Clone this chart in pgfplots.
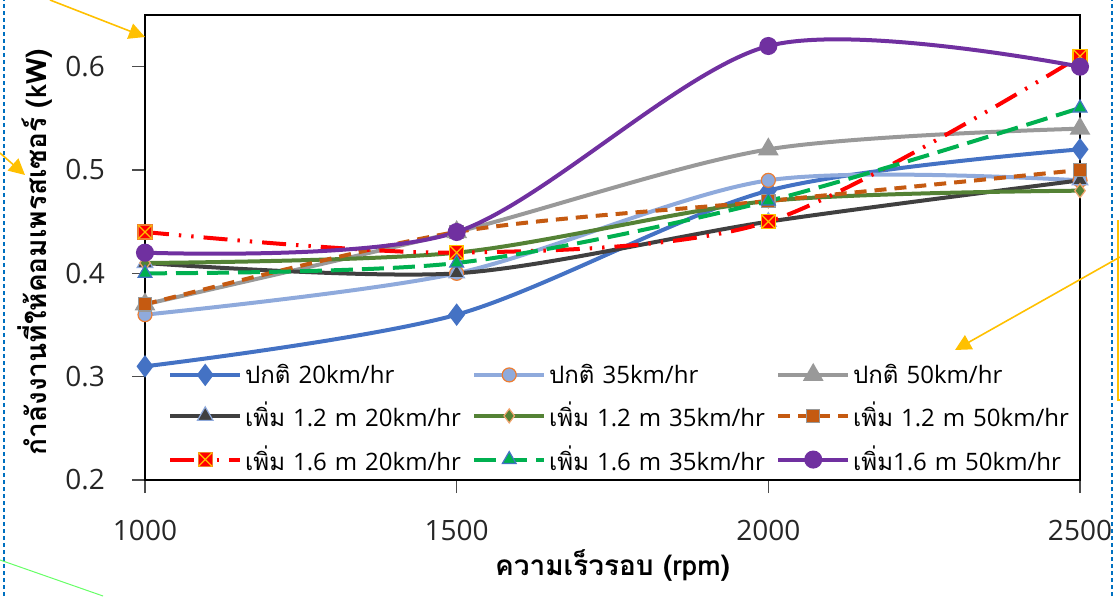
\documentclass[border=0pt]{standalone}
\usepackage{fontspec}
\setmainfont{Open Sans}
\newfontfamily\thai[Script=Thai]{Loma}
\usepackage{pgfplots}
\pgfplotsset{compat=1.18}
\usetikzlibrary{arrows.meta}
\definecolor{cA}{HTML}{4472C4}
\definecolor{cB}{HTML}{8FAADC}
\definecolor{cC}{HTML}{999999}
\definecolor{cD}{HTML}{404040}
\definecolor{cE}{HTML}{548235}
\definecolor{cF}{HTML}{C55A11}
\definecolor{cG}{HTML}{FF0000}
\definecolor{cH}{HTML}{00B050}
\definecolor{cI}{HTML}{7030A0}
\definecolor{edgeO}{HTML}{ED7D31}
\definecolor{edgeY}{HTML}{FFC000}
\definecolor{annBlue}{HTML}{0070C0}
\pgfdeclareplotmark{sqx}{%
  \pgfpathrectangle{\pgfpoint{-\pgfplotmarksize}{-\pgfplotmarksize}}{\pgfpoint{2\pgfplotmarksize}{2\pgfplotmarksize}}%
  \pgfusepathqfillstroke
  \pgfsetstrokecolor{edgeY}\pgfsetlinewidth{0.6pt}%
  \pgfpathmoveto{\pgfpoint{-\pgfplotmarksize}{-\pgfplotmarksize}}\pgfpathlineto{\pgfpoint{\pgfplotmarksize}{\pgfplotmarksize}}%
  \pgfpathmoveto{\pgfpoint{-\pgfplotmarksize}{\pgfplotmarksize}}\pgfpathlineto{\pgfpoint{\pgfplotmarksize}{-\pgfplotmarksize}}%
  \pgfusepathqstroke}
\begin{document}
\begin{tikzpicture}
\useasboundingbox (0,0) rectangle (560pt,298pt);
\begin{axis}[
  at={(72.5pt,58pt)}, anchor=south west,
  scale only axis, width=467.5pt, height=232.5pt,
  xmin=1000, xmax=2500, ymin=0.2, ymax=0.65,
  xtick={1000,1500,2000,2500}, xticklabels={1000,1500,2000,2500},
  ytick={0.2,0.3,0.4,0.5,0.6}, yticklabels={0.2,0.3,0.4,0.5,0.6},
  xtick pos=bottom, ytick pos=left, tick align=outside,
  major tick length=6.5pt,
  tick style={black!70, line width=0.8pt},
  axis line style={black, line width=1.1pt},
  ticklabel style={font=\fontsize{14}{16}\selectfont, text=black!85},
  xticklabel style={yshift=-10pt},
  yticklabel style={xshift=-10pt},
  xlabel={\bfseries\thai ความเร็วรอบ \bfseries(rpm)},
  ylabel={\bfseries\thai กำลังงานที่ให้คอมเพรสเซอร์ \bfseries(kW)},
  label style={font=\fontsize{14}{16}\selectfont},
  xlabel style={at={(axis description cs:0.5,-0.183)}, anchor=center},
  ylabel style={at={(axis description cs:-0.1176,0.49)}, anchor=center},
  every axis plot/.append style={line width=2pt, smooth},
  legend columns=3,
  legend cell align=left,
  legend style={at={(0.018,0.268)}, anchor=north west, draw=none, fill=none,
    font=\fontsize{12}{14}\selectfont, row sep=4pt,
    nodes={text width=112pt, inner xsep=1.5pt}},
  legend image code/.code={\draw[mark repeat=2,mark phase=2,#1] plot coordinates {(0pt,0pt) (17.5pt,0pt) (35pt,0pt)};},
]
\addplot[color=cA, mark=diamond*, mark size=4pt, mark options={fill=cA}] coordinates {(1000,0.31) (1500,0.36) (2000,0.48) (2500,0.52)};
\addlegendentry{{\thai ปกติ} 20km/hr}
\addplot[color=cB, mark=*, mark size=3.5pt, mark options={fill=cB, draw=edgeO, line width=0.6pt}] coordinates {(1000,0.36) (1500,0.40) (2000,0.49) (2500,0.49)};
\addlegendentry{{\thai ปกติ} 35km/hr}
\addplot[color=cC, mark=triangle*, mark size=4pt, mark options={fill=cC}] coordinates {(1000,0.37) (1500,0.44) (2000,0.52) (2500,0.54)};
\addlegendentry{{\thai ปกติ} 50km/hr}
\addplot[color=cD, mark=triangle*, mark size=4.5pt, mark options={fill=cD, draw=cB, line width=0.6pt}] coordinates {(1000,0.41) (1500,0.40) (2000,0.45) (2500,0.49)};
\addlegendentry{{\thai เพิ่ม} 1.2 m 20km/hr}
\addplot[color=cE, mark=diamond*, mark size=3.5pt, mark options={fill=cE, draw=edgeO!70, line width=0.6pt}] coordinates {(1000,0.41) (1500,0.42) (2000,0.47) (2500,0.48)};
\addlegendentry{{\thai เพิ่ม} 1.2 m 35km/hr}
\addplot[color=cF, dash pattern=on 6pt off 4pt, mark=square*, mark size=3.3pt, mark options={solid, fill=cF, draw=cC, line width=0.6pt}] coordinates {(1000,0.37) (1500,0.44) (2000,0.47) (2500,0.50)};
\addlegendentry{{\thai เพิ่ม} 1.2 m 50km/hr}
\addplot[color=cG, dash pattern=on 12pt off 5pt on 1.2pt off 5pt on 1.2pt off 5pt, mark=sqx, mark size=3.5pt, mark options={solid, fill=cG, draw=edgeO, line width=0.6pt}] coordinates {(1000,0.44) (1500,0.42) (2000,0.45) (2500,0.61)};
\addlegendentry{{\thai เพิ่ม} 1.6 m 20km/hr}
\addplot[color=cH, dash pattern=on 11pt off 4.5pt, mark=triangle*, mark size=4pt, mark options={solid, fill=cH, draw=cA, line width=0.6pt}] coordinates {(1000,0.40) (1500,0.41) (2000,0.47) (2500,0.56)};
\addlegendentry{{\thai เพิ่ม} 1.6 m 35km/hr}
\addplot[color=cI, mark=*, mark size=3.5pt, mark options={fill=cI}] coordinates {(1000,0.42) (1500,0.44) (2000,0.62) (2500,0.60)};
\addlegendentry{{\thai เพิ่ม}1.6 m 50km/hr}
\end{axis}
% annotation marks visible in the screenshot
\draw[annBlue, line width=1pt, dash pattern=on 2pt off 1.5pt] (2pt,0) -- (2pt,298pt);
\draw[annBlue, line width=1pt, dash pattern=on 2pt off 1.5pt] (556pt,0) -- (556pt,298pt);
\draw[edgeY, line width=0.8pt, -{Triangle[length=8pt,width=8pt]}] (25pt,298pt) -- (72.5pt,279.5pt);
\draw[edgeY, line width=0.8pt, -{Triangle[length=8pt,width=8pt]}] (0pt,221.5pt) -- (12.5pt,210.5pt);
\draw[edgeY, line width=0.8pt, -{Triangle[length=8pt,width=8pt]}] (560pt,169.5pt) -- (477.5pt,123pt);
\draw[edgeY, line width=0.8pt] (559pt,188pt) -- (559pt,98pt) -- (560pt,98pt);
\draw[green!60, line width=0.5pt] (0pt,18pt) -- (51.5pt,0pt);
\end{tikzpicture}
\end{document}
